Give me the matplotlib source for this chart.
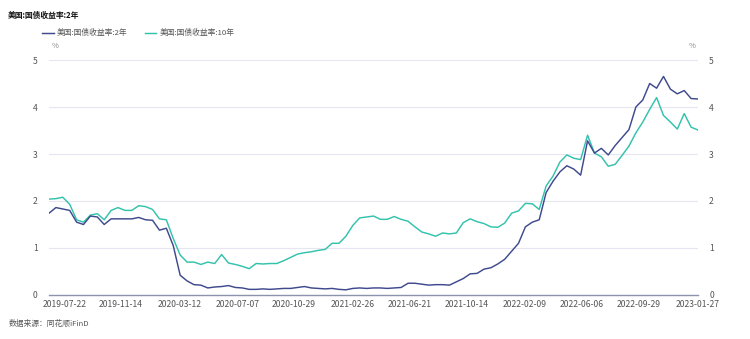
import matplotlib
matplotlib.use("Agg")
import matplotlib.pyplot as plt
import pandas as pd

plt.rcParams["font.family"] = ["Noto Sans CJK SC", "DejaVu Sans"]

# ---- data (biweekly samples) ---------------------------------------------
dates = pd.date_range(end="2023-01-27", periods=95, freq="14D")

yield_2y = [
    1.74, 1.86, 1.83, 1.80, 1.55, 1.50, 1.68, 1.66, 1.50, 1.62,
    1.62, 1.62, 1.62, 1.65, 1.60, 1.59, 1.38, 1.42, 1.05, 0.42,
    0.30, 0.22, 0.21, 0.15, 0.17, 0.18, 0.20, 0.16, 0.15, 0.12,
    0.12, 0.13, 0.12, 0.13, 0.14, 0.14, 0.16, 0.18, 0.15, 0.14,
    0.13, 0.14, 0.12, 0.11, 0.14, 0.15, 0.14, 0.15, 0.15, 0.14,
    0.15, 0.16, 0.25, 0.25, 0.23, 0.21, 0.22, 0.22, 0.21, 0.28,
    0.35, 0.45, 0.46, 0.55, 0.58, 0.66, 0.76, 0.93, 1.10, 1.45,
    1.55, 1.60, 2.18, 2.42, 2.62, 2.75, 2.68, 2.55, 3.28, 3.02,
    3.12, 2.98, 3.18, 3.35, 3.52, 4.00, 4.15, 4.50, 4.40, 4.65,
    4.38, 4.28, 4.35, 4.18, 4.17,
]

yield_10y = [
    2.04, 2.05, 2.08, 1.93, 1.60, 1.55, 1.70, 1.73, 1.60, 1.80,
    1.86, 1.80, 1.80, 1.90, 1.88, 1.82, 1.62, 1.60, 1.20, 0.85,
    0.70, 0.70, 0.65, 0.70, 0.67, 0.86, 0.68, 0.65, 0.61, 0.56,
    0.67, 0.66, 0.67, 0.67, 0.73, 0.80, 0.87, 0.90, 0.92, 0.95,
    0.97, 1.10, 1.10, 1.25, 1.48, 1.64, 1.66, 1.68, 1.61, 1.61,
    1.67, 1.61, 1.57, 1.45, 1.34, 1.30, 1.25, 1.32, 1.30, 1.32,
    1.54, 1.62, 1.56, 1.52, 1.45, 1.44, 1.53, 1.74, 1.79, 1.95,
    1.94, 1.82, 2.32, 2.53, 2.83, 2.98, 2.91, 2.88, 3.40, 3.02,
    2.94, 2.74, 2.78, 2.97, 3.17, 3.45, 3.68, 3.95, 4.20, 3.82,
    3.68, 3.53, 3.86, 3.57, 3.51,
]

tick_dates = ["2019-07-22", "2019-11-14", "2020-03-12", "2020-07-07",
              "2020-10-29", "2021-02-26", "2021-06-21", "2021-10-14",
              "2022-02-09", "2022-06-06", "2022-09-29", "2023-01-27"]
y_ticks = [0, 1, 2, 3, 4, 5]

title = "美国:国债收益率:2年"
label_2y = "美国:国债收益率:2年"
label_10y = "美国:国债收益率:10年"
source = "数据来源：同花顺iFinD"

# ---- plot ----------------------------------------------------------------
c_2y = "#3f4a8e"
c_10y = "#33c2ac"

fig = plt.figure(figsize=(7.5, 3.39), dpi=100)
ax = fig.add_axes([0.0653, 0.1298, 0.8654, 0.6932])

ax.plot(dates, yield_2y, color=c_2y, linewidth=1.05, label=label_2y, zorder=3)
ax.plot(dates, yield_10y, color=c_10y, linewidth=1.05, label=label_10y, zorder=2)

ax.set_xlim(dates[0], dates[-1])
ax.set_ylim(0, 5)
ax.set_yticks(y_ticks)
ax.set_xticks(pd.to_datetime(tick_dates))
ax.set_xticklabels(tick_dates)

for y in y_ticks[1:]:
    ax.axhline(y, color="#e6e6f2", linewidth=0.8, zorder=0)

for side in ["top", "left", "right"]:
    ax.spines[side].set_visible(False)
ax.spines["bottom"].set_color("#8b93ad")
ax.spines["bottom"].set_linewidth(1.0)

ax.tick_params(axis="both", length=0, labelsize=6.2, colors="#555555")
ax.tick_params(axis="y", labelright=True, pad=8)
ax.tick_params(axis="x", pad=3.5)

fig.text(0.0693, 0.858, "%", fontsize=5.5, color="#888888", ha="left")
fig.text(0.928, 0.858, "%", fontsize=5.5, color="#888888", ha="right")

fig.text(0.011, 0.955, title, fontsize=5.6, fontweight="bold", color="#111111",
         va="center", ha="left")
fig.text(0.011, 0.046, source, fontsize=5.6, color="#555555", va="center", ha="left")

ax.legend(loc="lower left", bbox_to_anchor=(0.056, 0.89), bbox_transform=fig.transFigure,
          ncol=2, frameon=False, fontsize=5.6, handlelength=1.5, handletextpad=0.4,
          columnspacing=2.2, labelcolor="#555555", borderaxespad=0, borderpad=0)

fig.savefig("out.png", dpi=100)
